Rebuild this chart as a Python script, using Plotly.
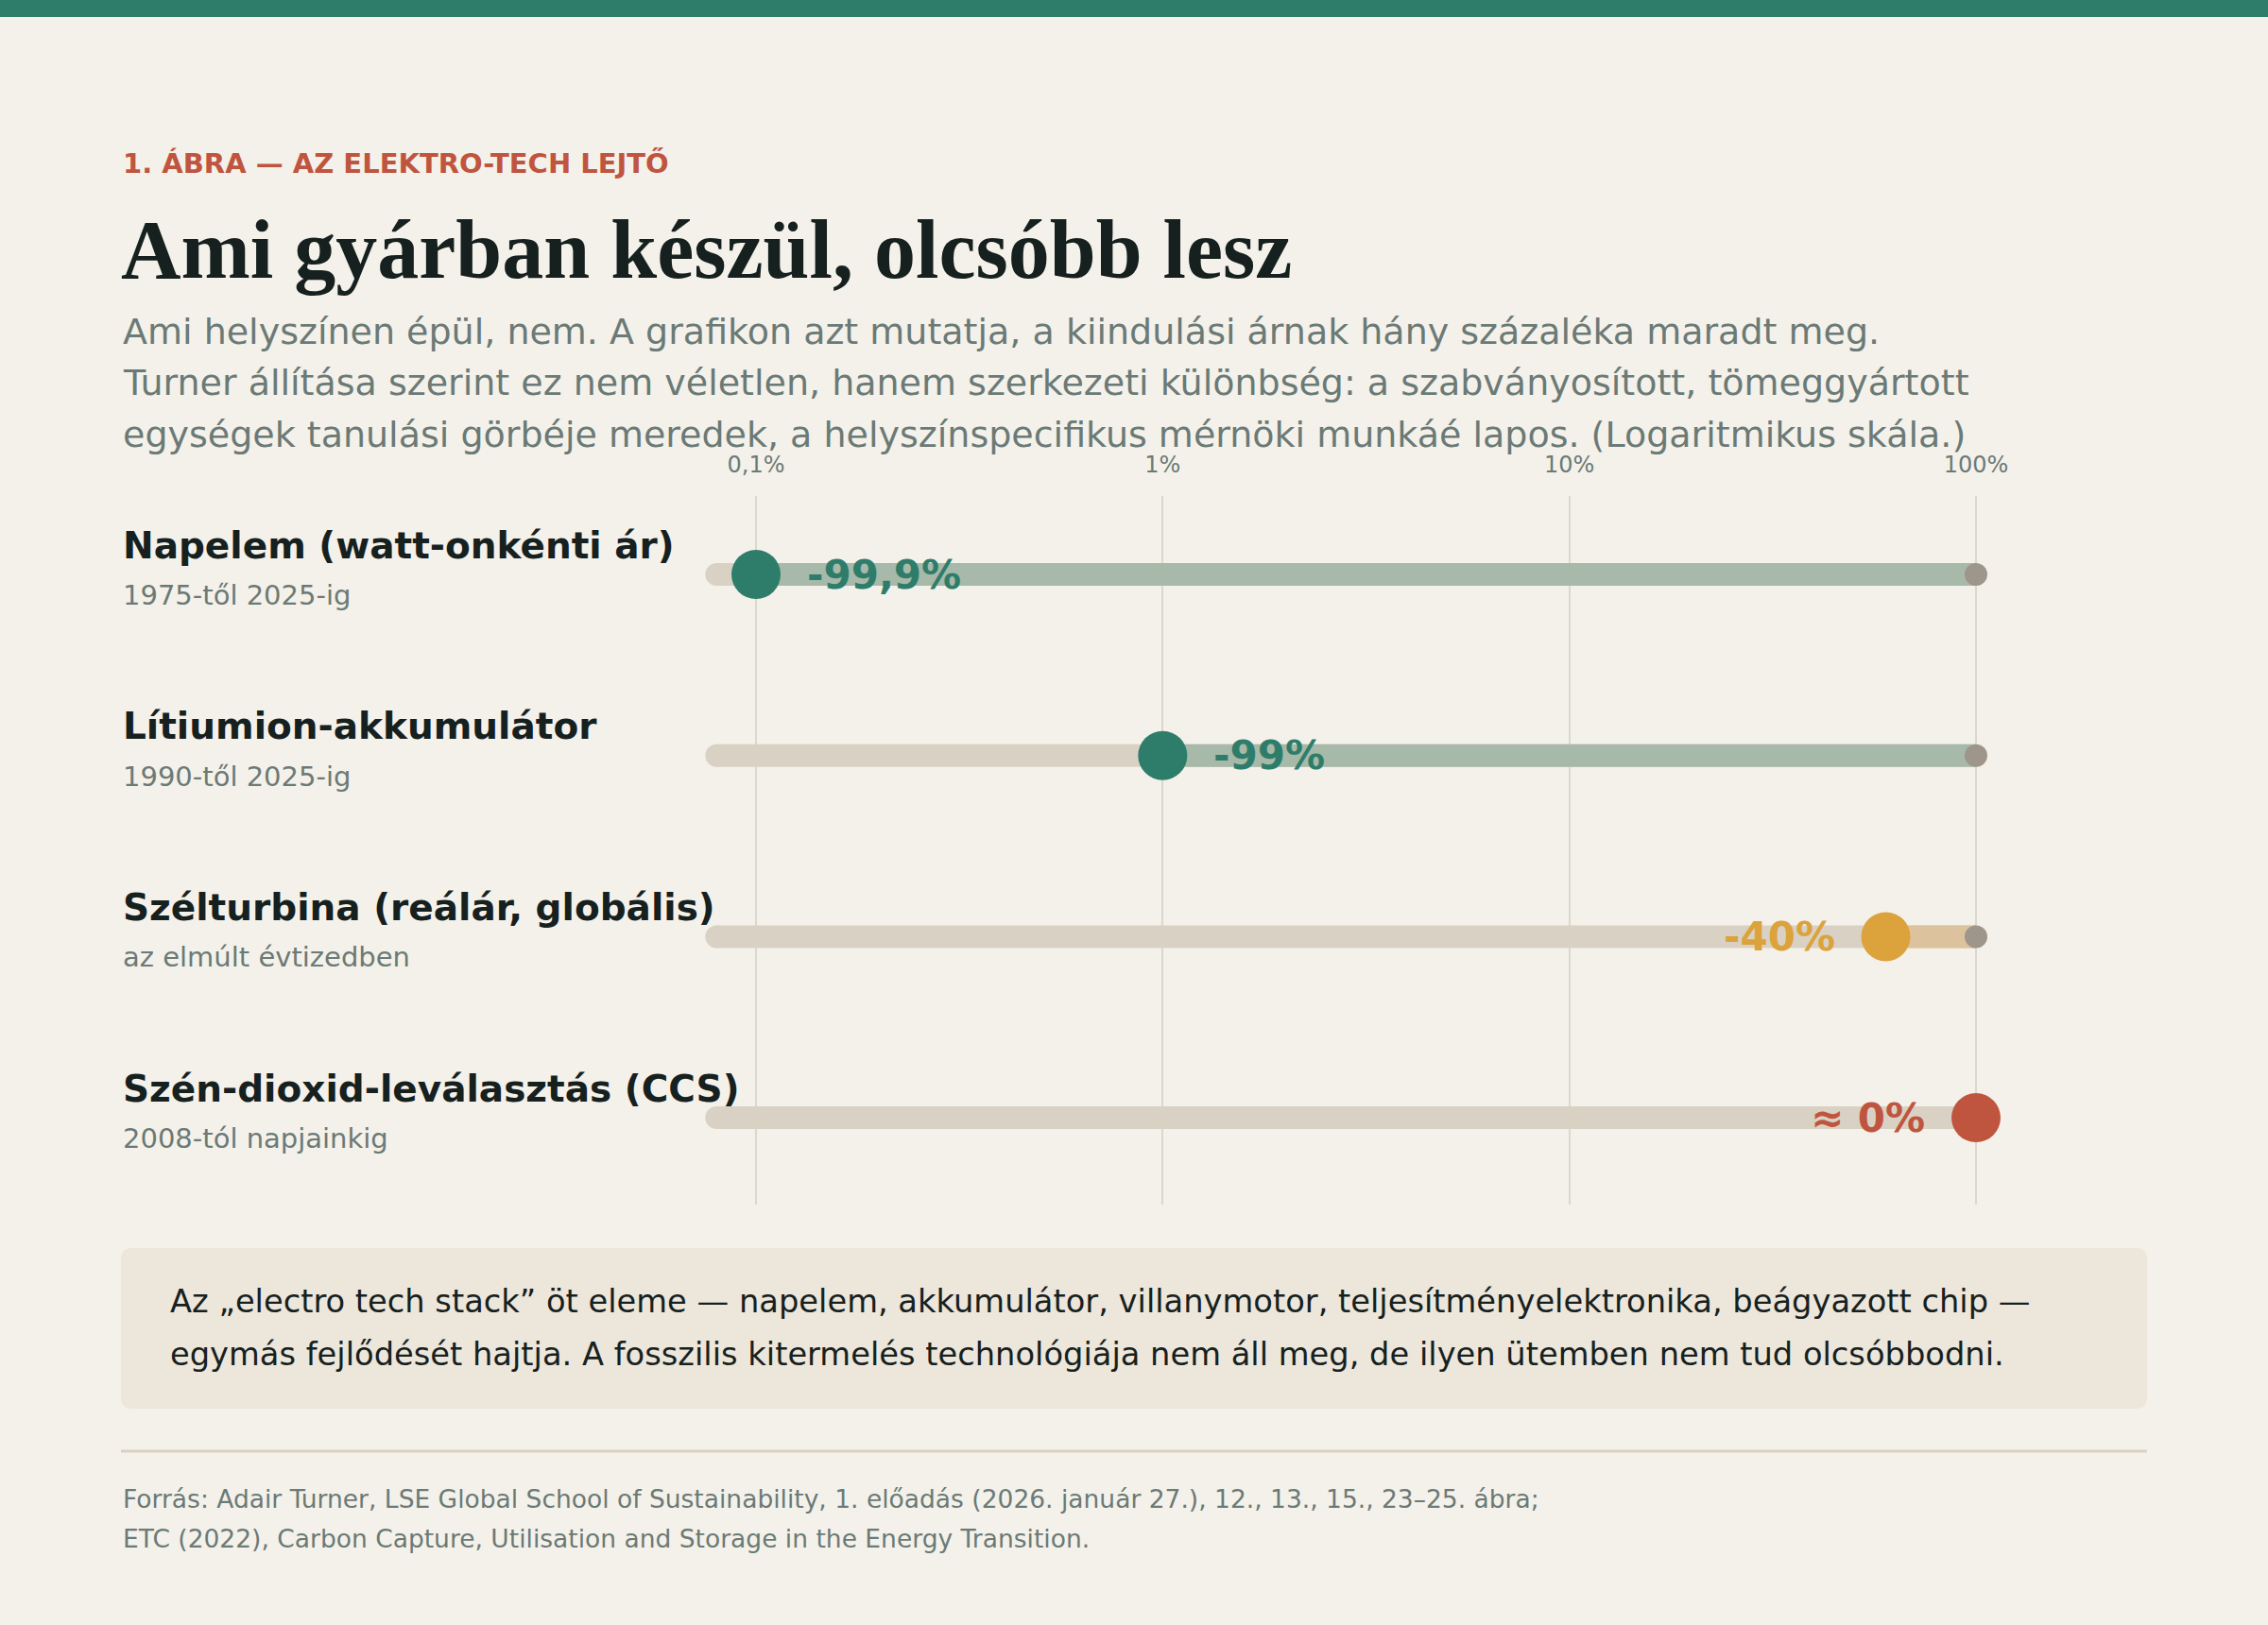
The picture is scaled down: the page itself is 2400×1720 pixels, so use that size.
#!/usr/bin/env python3
# -*- coding: utf-8 -*-
"""
1. abra - az elektro-tech lejto
how much of the starting price is left (log scale), one row per technology
"""
# =============================================================================
# imports
# =============================================================================
import math
import plotly.graph_objects as go


# =============================================================================
# Declares / data
# =============================================================================
categories = ["Napelem (watt-onkénti ár)",
              "Lítiumion-akkumulátor",
              "Szélturbina (reálár, globális)",
              "Szén-dioxid-leválasztás (CCS)"]
periods = ["1975-től 2025-ig",
           "1990-től 2025-ig",
           "az elmúlt évtizedben",
           "2008-tól napjainkig"]
remaining_pct = [0.1, 1, 60, 100]          # % of starting price left
change_labels = ["-99,9%", "-99%", "-40%", "≈ 0%"]

tick_vals = [0.1, 1, 10, 100]
tick_text = ["0,1%", "1%", "10%", "100%"]

kicker = "1. ÁBRA — AZ ELEKTRO-TECH LEJTŐ"
title = "Ami gyárban készül, olcsóbb lesz"
subtitle_lines = [
    "Ami helyszínen épül, nem. A grafikon azt mutatja, a kiindulási árnak hány százaléka maradt meg.",
    "Turner állítása szerint ez nem véletlen, hanem szerkezeti különbség: a szabványosított, tömeggyártott",
    "egységek tanulási görbéje meredek, a helyszínspecifikus mérnöki munkáé lapos. (Logaritmikus skála.)",
]
note_lines = [
    "Az „electro tech stack” öt eleme — napelem, akkumulátor, villanymotor, teljesítményelektronika, beágyazott chip —",
    "egymás fejlődését hajtja. A fosszilis kitermelés technológiája nem áll meg, de ilyen ütemben nem tud olcsóbbodni.",
]
source_lines = [
    "Forrás: Adair Turner, LSE Global School of Sustainability, 1. előadás (2026. január 27.), 12., 13., 15., 23–25. ábra;",
    "ETC (2022), Carbon Capture, Utilisation and Storage in the Energy Transition.",
]

# colours
BG = "#f4f1ea"
GREEN = "#2e7d6b"
GREEN_LIGHT = "#a7b9a9"
ORANGE = "#dca23c"
ORANGE_LIGHT = "#dcc39d"
RED = "#c0553f"
TRACK = "#d9d2c4"
END_DOT = "#9e958b"
GRID = "#dcd7cc"
INK = "#16211f"
MUTED = "#6b7a76"
NOTE_BG = "#ede6da"

dot_colors = [GREEN, GREEN, ORANGE, RED]
fill_colors = [GREEN_LIGHT, GREEN_LIGHT, ORANGE_LIGHT, None]

SANS = "DejaVu Sans"
SERIF = "Liberation Serif"

# page geometry (pixels)
W, H = 2400, 1720
X_LO_PX, X_HI_PX = 800, 2091        # where 0,1% and 100% sit
ROW0_PX, ROW_STEP = 608, 191.7
GRID_TOP, GRID_BOTTOM = 525, 1275
LEFT = 128
RIGHT = 2272
TRACK_START = 0.08                  # left end of the grey track


# =============================================================================
# helper functions
# =============================================================================
def px(x):
    return x / W


def py(y):
    return 1 - y / H


def text(x, y, s, size, color, weight=400, family=SANS, xanchor="left"):
    return dict(x=px(x), y=py(y), xref="paper", yref="paper", text=s,
                showarrow=False, xanchor=xanchor, yanchor="middle",
                font=dict(family=family, size=size, color=color, weight=weight))


def rounded_rect(x0, y0, x1, y1, r):
    # path in paper coords, r in pixels
    return ("M {a},{b} L {c},{b} Q {d},{b} {d},{e} L {d},{f} Q {d},{g} {c},{g} "
            "L {a},{g} Q {h},{g} {h},{f} L {h},{e} Q {h},{b} {a},{b} Z").format(
        a=px(x0 + r), b=py(y0), c=px(x1 - r), d=px(x1), e=py(y0 + r),
        f=py(y1 - r), g=py(y1), h=px(x0))


# =============================================================================
# Main
# =============================================================================
fig = go.Figure()

decade = (X_HI_PX - X_LO_PX) / 3.0
x_range = [math.log10(tick_vals[0]) - X_LO_PX / decade,
           math.log10(tick_vals[-1]) + (W - X_HI_PX) / decade]
y_range = [(GRID_BOTTOM - ROW0_PX) / ROW_STEP, (GRID_TOP - ROW0_PX) / ROW_STEP]

for i, val in enumerate(remaining_pct):
    # grey track with round left cap
    fig.add_trace(go.Scatter(x=[TRACK_START, 100], y=[i, i], mode="lines",
                             line=dict(color=TRACK, width=24),
                             hoverinfo="skip", showlegend=False))
    fig.add_trace(go.Scatter(x=[TRACK_START], y=[i], mode="markers",
                             marker=dict(color=TRACK, size=24),
                             hoverinfo="skip", showlegend=False))
    # coloured part from the dot up to 100%
    if fill_colors[i] is not None:
        fig.add_trace(go.Scatter(x=[val, 100], y=[i, i], mode="lines",
                                 line=dict(color=fill_colors[i], width=24),
                                 hoverinfo="skip", showlegend=False))
    # starting price end dot
    fig.add_trace(go.Scatter(x=[100], y=[i], mode="markers",
                             marker=dict(color=END_DOT, size=24),
                             hoverinfo="skip", showlegend=False))
    # today
    fig.add_trace(go.Scatter(x=[val], y=[i], mode="markers",
                             marker=dict(color=dot_colors[i], size=52),
                             hovertemplate=categories[i] + ": %{x}%<extra></extra>",
                             showlegend=False))

annotations = []
for i, val in enumerate(remaining_pct):
    right_side = val < 10
    annotations.append(dict(x=math.log10(val), y=i, xref="x", yref="y",
                            text=change_labels[i], showarrow=False,
                            xanchor="left" if right_side else "right",
                            xshift=52 if right_side else -52, yanchor="middle",
                            font=dict(family=SANS, size=42, color=dot_colors[i], weight=700)))
    annotations.append(dict(x=px(LEFT), y=i, xref="paper", yref="y", text=categories[i],
                            showarrow=False, xanchor="left", yanchor="middle", yshift=31,
                            font=dict(family=SANS, size=39, color=INK, weight=700)))
    annotations.append(dict(x=px(LEFT), y=i, xref="paper", yref="y", text=periods[i],
                            showarrow=False, xanchor="left", yanchor="middle", yshift=-22,
                            font=dict(family=SANS, size=29, color=MUTED)))

# header
annotations.append(text(LEFT, 173, kicker, 29, RED, weight=700))
annotations.append(text(LEFT - 2, 264, title, 88, INK, weight=700, family=SERIF))
for n, line in enumerate(subtitle_lines):
    annotations.append(text(LEFT, 351 + 54.5 * n, line, 38, MUTED))

# note + source
for n, line in enumerate(note_lines):
    annotations.append(text(LEFT + 50, 1377 + 56 * n, line, 33.7, INK))
for n, line in enumerate(source_lines):
    annotations.append(text(LEFT, 1586 + 42 * n, line, 26.5, MUTED))

shapes = [
    dict(type="rect", xref="paper", yref="paper", x0=0, x1=1, y0=py(18), y1=1,
         fillcolor=GREEN, line=dict(width=0), layer="below"),
    dict(type="path", xref="paper", yref="paper", path=rounded_rect(LEFT, 1321, RIGHT, 1491, 12),
         fillcolor=NOTE_BG, line=dict(width=0), layer="below"),
    dict(type="line", xref="paper", yref="paper", x0=px(LEFT), x1=px(RIGHT), y0=py(1536), y1=py(1536),
         line=dict(color=TRACK, width=3)),
]

fig.update_layout(
    width=W, height=H,
    margin=dict(l=0, r=0, t=0, b=0),
    paper_bgcolor=BG, plot_bgcolor=BG,
    showlegend=False,
    annotations=annotations,
    shapes=shapes,
    xaxis=dict(type="log", range=x_range, domain=[0, 1], side="top",
               tickvals=tick_vals, ticktext=tick_text, ticks="", ticklabelstandoff=19,
               tickfont=dict(family=SANS, size=24, color=MUTED),
               showgrid=True, gridcolor=GRID, gridwidth=2, zeroline=False, showline=False,
               fixedrange=True),
    yaxis=dict(range=y_range, domain=[py(GRID_BOTTOM), py(GRID_TOP)], visible=False,
               showgrid=False, zeroline=False, fixedrange=True),
)

# no page margin round the figure, no modebar
fig.write_html("out.html", config={"displayModeBar": False},
               post_script="document.body.style.margin='0';")
